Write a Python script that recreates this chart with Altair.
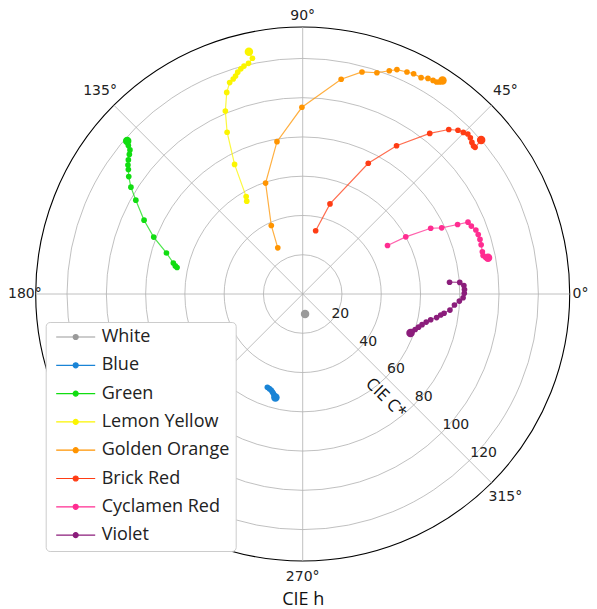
import altair as alt
import pandas as pd

# ---------------- data (CIELAB a*, b*) ----------------
RMAX = 136
RING_R = [20, 40, 60, 80, 100, 120]
SPOKE_DEG = [0, 45, 90, 135, 180, 225, 270, 315]
SPOKE_TXT = ["0°", "45°", "90°", "135°", "180°", "225°", "270°", "315°"]
RLABEL_TXT = ["20", "40", "60", "80", "100", "120"]

SERIES = ["White", "Blue", "Green", "Lemon Yellow", "Golden Orange",
          "Brick Red", "Cyclamen Red", "Violet"]
COLORS = ["#9a9a9a", "#1a84d6", "#11dd11", "#fbf500", "#ff9400",
          "#ff3c14", "#ff2d91", "#8b1d7b"]

white_a = [1.2]
white_b = [-10.2]
blue_a = [-18.0, -17.0, -16.1, -15.5, -15.0, -14.6, -14.1, -13.9]
blue_b = [-47.5, -48.2, -48.9, -49.8, -50.6, -51.4, -52.4, -52.7]
green_a = [-64.0, -64.9, -65.9, -69.4, -75.9, -80.8, -85.0, -87.5, -88.6, -88.8,
           -89.0, -88.8, -88.3, -88.0, -88.8, -89.4]
green_b = [13.5, 14.3, 15.8, 20.9, 29.0, 37.6, 47.8, 54.4, 59.8, 63.4,
           65.7, 68.3, 71.1, 73.4, 75.6, 77.9]
yellow_a = [-28.5, -28.8, -34.7, -38.5, -39.4, -38.7, -37.2, -35.4, -34.2, -33.1,
            -31.5, -29.9, -27.6, -25.6, -27.4]
yellow_b = [47.3, 49.6, 66.0, 82.4, 93.2, 102.7, 107.7, 109.5, 111.0, 113.0,
            114.7, 116.1, 117.5, 120.1, 123.4]
orange_a = [-12.7, -16.0, -18.9, -13.1, -0.4, 19.6, 30.2, 37.8, 44.1, 48.0,
            53.1, 56.5, 60.3, 63.8, 66.4, 68.2, 69.7, 71.2]
orange_b = [23.5, 34.9, 56.5, 77.6, 95.1, 109.4, 113.1, 112.7, 113.7, 114.3,
            113.1, 112.2, 110.2, 109.8, 108.8, 108.0, 108.0, 108.8]
brick_a = [6.6, 13.9, 33.4, 47.8, 64.7, 74.4, 79.1, 81.8, 84.1, 85.4,
           86.2, 87.0, 87.8, 90.9]
brick_b = [32.2, 45.9, 66.6, 75.5, 81.8, 83.8, 83.4, 82.3, 81.5, 79.6,
           77.2, 75.4, 74.7, 78.4]
cyclamen_a = [43.2, 52.5, 65.2, 70.8, 78.9, 84.2, 85.9, 88.2, 89.4, 90.3,
              90.9, 91.5, 91.9, 93.1, 94.4]
cyclamen_b = [24.7, 29.1, 33.5, 33.7, 35.4, 36.6, 34.6, 32.6, 30.3, 27.8,
              25.1, 21.5, 19.6, 18.7, 18.5]
violet_a = [74.8, 80.0, 82.1, 82.4, 82.3, 81.7, 79.8, 77.3, 75.0, 72.0,
            70.3, 68.2, 65.2, 62.9, 60.8, 59.0, 57.3, 55.7, 54.9]
violet_b = [6.0, 5.9, 4.3, 2.3, 0.4, -1.9, -3.6, -5.6, -8.2, -9.8,
            -10.7, -12.0, -13.1, -14.3, -15.6, -16.9, -18.1, -19.1, -19.9]

A_VALS = [white_a, blue_a, green_a, yellow_a, orange_a, brick_a, cyclamen_a, violet_a]
B_VALS = [white_b, blue_b, green_b, yellow_b, orange_b, brick_b, cyclamen_b, violet_b]

rows = []
for name, av, bv in zip(SERIES, A_VALS, B_VALS):
    for i, (a, b) in enumerate(zip(av, bv)):
        rows.append({"series": name, "idx": i, "a": a, "b": b})
pts = pd.DataFrame(rows)

# ---------------- chart ----------------
W = 534
xscale = alt.Scale(domain=[-RMAX, RMAX], nice=False, zero=False)
yscale = alt.Scale(domain=[-RMAX, RMAX], nice=False, zero=False)
xaxis = alt.Axis(title="CIE h", labels=False, ticks=False, domain=False, grid=False,
                 titleFont="Open Sans", titleFontSize=18, titleFontWeight="normal",
                 titleColor="#111111", titlePadding=29.5)


def X(f):
    return alt.X(f, type="quantitative", scale=xscale, axis=xaxis)


def Y(f):
    return alt.Y(f, type="quantitative", scale=yscale, axis=None)


rscale = alt.Scale(type="linear", domain=[0, RMAX], range=[0, W / 2], zero=True)

rings = alt.Chart(pd.DataFrame({"r": RING_R})).mark_arc(
    fill="transparent", stroke="#b0b0b0", strokeWidth=0.8
).encode(theta=alt.value(0), theta2=alt.value(6.2832),
         radius=alt.Radius("r:Q", scale=rscale, stack=False))

outer = alt.Chart(pd.DataFrame({"r": [RMAX]})).mark_arc(
    fill="transparent", stroke="#000000", strokeWidth=1.1
).encode(theta=alt.value(0), theta2=alt.value(6.2832),
         radius=alt.Radius("r:Q", scale=rscale, stack=False))

spoke_df = pd.DataFrame({"deg": SPOKE_DEG, "txt": SPOKE_TXT})
spokes = alt.Chart(spoke_df).transform_calculate(
    x0="0", y0="0",
    x1=f"{RMAX}*cos(datum.deg*PI/180)",
    y1=f"{RMAX}*sin(datum.deg*PI/180)",
).mark_rule(color="#b0b0b0", strokeWidth=0.8).encode(
    x=X("x0"), y=Y("y0"), x2="x1:Q", y2="y1:Q")

# labels sit ~20px outside the rim; the ones at the page edges are pulled in to stay visible;
# the 225° label lies under the legend box in the reference, so it is not drawn
theta_lbl = alt.Chart(spoke_df).transform_filter(
    "datum.deg != 225"
).transform_calculate(
    rr=(f"(datum.deg == 0 || datum.deg == 90 || datum.deg == 180) ? {RMAX + 5.5} : "
        f"(datum.deg == 270 ? {RMAX + 8} : {RMAX + 10})")
).transform_calculate(
    tx="datum.rr*cos(datum.deg*PI/180)",
    ty="datum.rr*sin(datum.deg*PI/180)",
).mark_text(font="DejaVu Sans", fontSize=14, color="#222222",
            align="center", baseline="middle").encode(
    x=X("tx"), y=Y("ty"), text="txt:N")

rl_df = pd.DataFrame({"r": RING_R, "txt": RLABEL_TXT})
r_lbl = alt.Chart(rl_df).transform_calculate(
    tx="datum.r*cos(-PI/4)", ty="datum.r*sin(-PI/4)"
).mark_text(font="DejaVu Sans", fontSize=14, color="#222222",
            align="left", baseline="middle", dx=1, dy=-8).encode(
    x=X("tx"), y=Y("ty"), text="txt:N")

c_title = alt.Chart(pd.DataFrame({"r": [68], "deg": [308.5], "txt": ["CIE C*"]})).transform_calculate(
    tx="datum.r*cos(datum.deg*PI/180)", ty="datum.r*sin(datum.deg*PI/180)"
).mark_text(font="Open Sans", fontSize=17, color="#111111", angle=45,
            align="center", baseline="middle").encode(
    x=X("tx"), y=Y("ty"), text="txt:N")

SYM = "M-3.9,0L3.9,0M-0.5,0A0.5,0.5,0,1,0,0.5,0A0.5,0.5,0,1,0,-0.5,0Z"
leg = alt.Legend(title=None, orient="none", legendX=10, legendY=295,
                 symbolType=SYM, symbolSize=100, symbolStrokeWidth=1.2,
                 labelFont="Open Sans", labelFontSize=18, labelColor="#222222",
                 labelOffset=17, symbolOffset=15, padding=6, rowPadding=10.3,
                 fillColor="white", strokeColor="#cccccc", cornerRadius=4)
cscale = alt.Scale(domain=SERIES, range=COLORS)

lines = alt.Chart(pts).mark_line(strokeWidth=1.2, strokeOpacity=0.75).encode(
    x=X("a"), y=Y("b"),
    stroke=alt.Stroke("series:N", scale=cscale, legend=leg, sort=SERIES),
    detail="series:N", order="idx:Q")

points = alt.Chart(pts).transform_joinaggregate(
    last="max(idx)", groupby=["series"]
).transform_calculate(
    sz="datum.idx == datum.last ? 72 : 32"
).mark_circle(opacity=1).encode(
    x=X("a"), y=Y("b"),
    fill=alt.Fill("series:N", scale=cscale, legend=leg, sort=SERIES),
    size=alt.Size("sz:Q", scale=None, legend=None))

# total svg width 581 = page width minus body margins, so nothing gets rescaled
chart = alt.layer(rings, outer, spokes, theta_lbl, r_lbl, c_title, lines, points).properties(
    width=W, height=W,
    autosize=alt.AutoSizeParams(type="none"),
    padding={"left": 27.7, "top": 19, "right": 19.3, "bottom": 48},
).configure_view(strokeWidth=0)

chart.save("out.html", embed_options={"renderer": "svg", "actions": False})
